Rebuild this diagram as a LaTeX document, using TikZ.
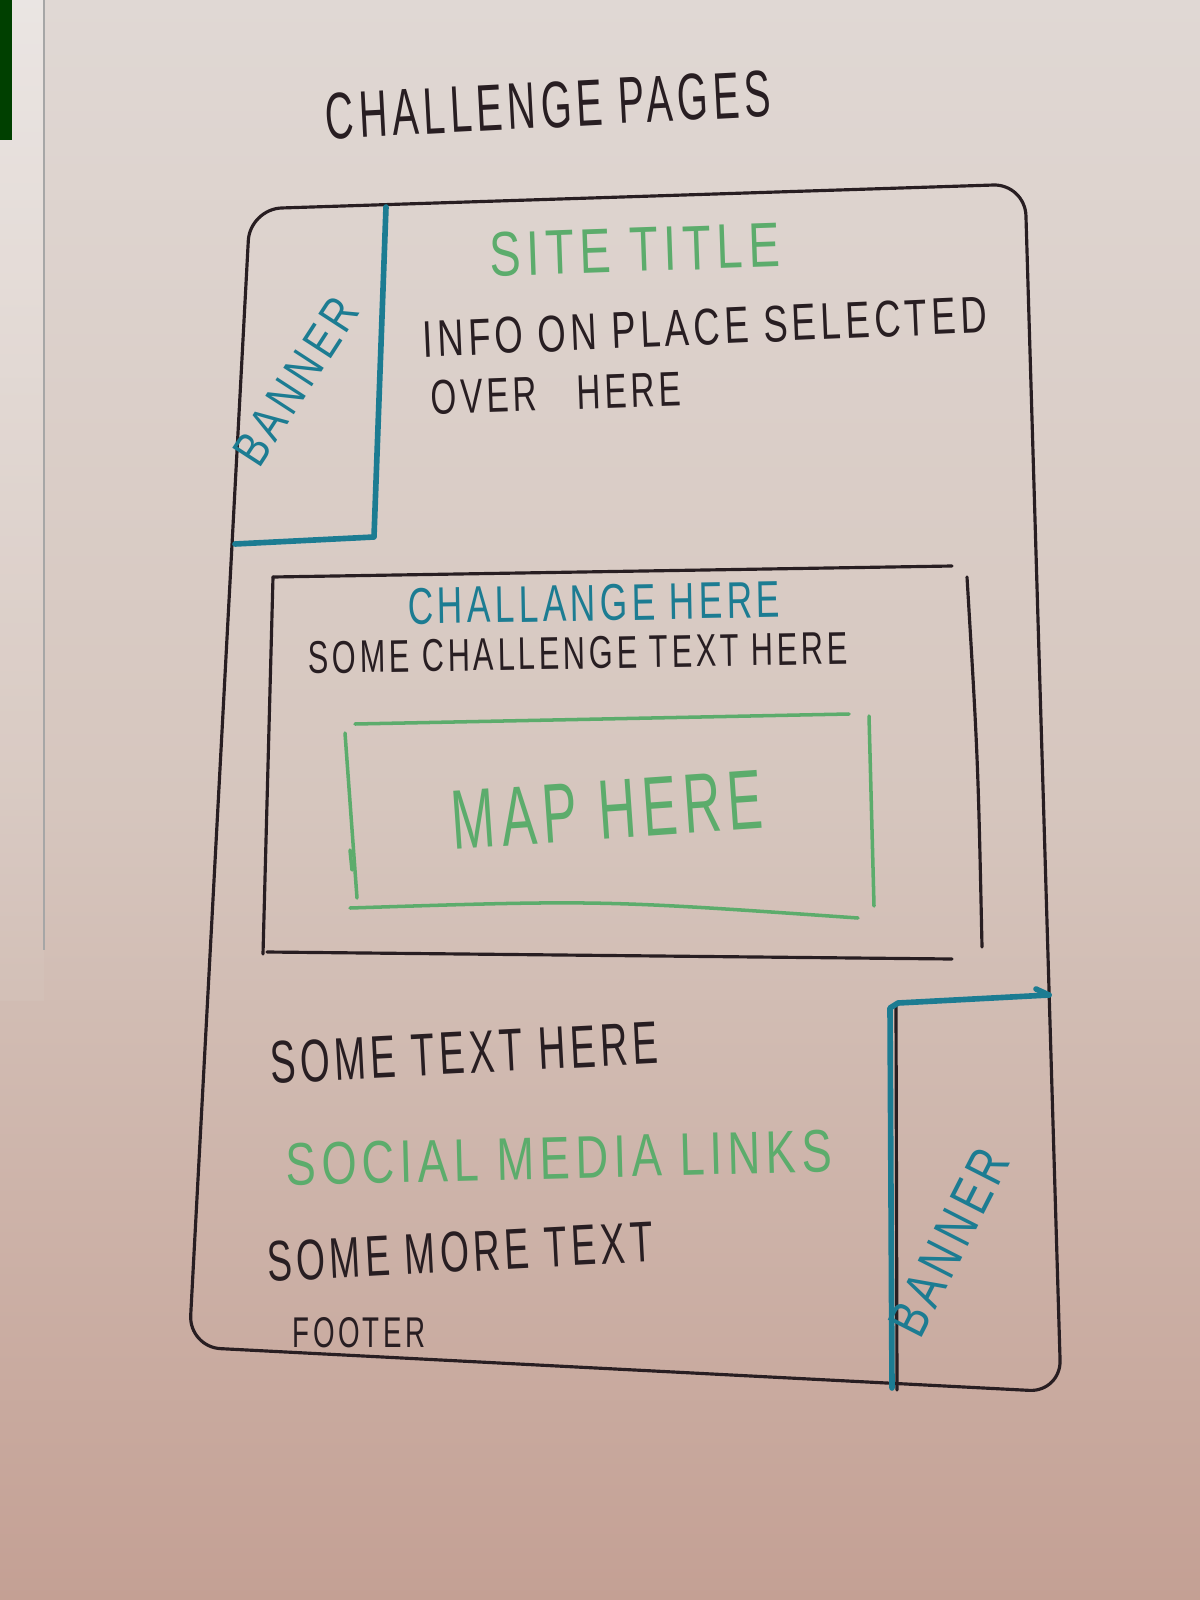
\documentclass[tikz,border=0pt]{standalone}
\usepackage{fontspec}
\usepackage{graphicx}
\setmainfont{Liberation Sans}
\newfontfamily\hand[LetterSpace=12]{Liberation Sans}
\newlength\pxu
\setlength\pxu{0.1mm}
% hand lettering fitted to a given width and cap height (in px units)
\newcommand{\hw}[3]{\resizebox{#1\pxu}{#2\pxu}{\hand #3}}
\definecolor{paperTop}{RGB}{224,216,212}
\definecolor{paperMid}{RGB}{214,198,190}
\definecolor{paperBot}{RGB}{196,160,148}
\definecolor{inkBlack}{RGB}{40,30,34}
\definecolor{inkBlue}{RGB}{28,124,146}
\definecolor{inkGreen}{RGB}{92,172,108}
\tikzset{
  pen/.style={draw=inkBlack, line width=0.9pt, line cap=round, line join=round},
  bluepen/.style={draw=inkBlue, line width=1.6pt, line cap=round, line join=round},
  greenpen/.style={draw=inkGreen, line width=1.0pt, line cap=round, line join=round},
  lbl/.style={inner sep=0pt, text=inkBlack},
  lblblue/.style={inner sep=0pt, text=inkBlue},
  lblgreen/.style={inner sep=0pt, text=inkGreen},
}
\begin{document}
\begin{tikzpicture}[x=0.01cm, y=-0.01cm]
  % paper
  \shade[top color=paperTop, bottom color=paperBot, middle color=paperMid]
    (0,0) rectangle (1200,1600);
  \useasboundingbox (0,0) rectangle (1200,1600);
  % page edge on the left
  \shade[top color=white, bottom color=paperMid, opacity=0.35] (0,0) rectangle (44,1000);
  \draw[black!35, line width=0.4pt] (44,0) -- (44,950);
  \fill[green!25!black] (0,0) rectangle (12,140);

  % title
  \node[lbl, rotate=3] (title) at (548,105) {\hw{445}{46}{CHALLENGE PAGES}};

  % outer page frame
  \draw[pen, rounded corners=9pt] (250,209) -- (1025,184) -- (1061,1392) -- (189,1347) -- cycle;

  % top-left banner
  \draw[bluepen] (386,207) -- (374,537) -- (235,544);
  \node[lblblue, rotate=57] (banner1) at (296,381) {\hw{188}{34}{BANNER}};

  % header texts
  \node[lblgreen, rotate=2] (sitetitle) at (635,250) {\hw{290}{44}{SITE TITLE}};
  \node[lbl, rotate=2.5] (info1) at (705,327) {\hw{564}{36}{INFO ON PLACE SELECTED}};
  \node[lbl, rotate=2] (info2) at (556,393) {\hw{250}{34}{OVER\hspace{1.2em}HERE}};

  % challenge box
  \draw[pen] (273,577) -- (952,566);
  \draw[pen] (967,577) .. controls (978,760) .. (982,947);
  \draw[pen] (267,952) -- (952,959);
  \draw[pen] (273,577) -- (263,954);
  \node[lblblue, rotate=1] (chtitle) at (594,603) {\hw{372}{36}{CHALLANGE HERE}};
  \node[lbl, rotate=1] (chtext) at (578,653) {\hw{539}{32}{SOME CHALLENGE TEXT HERE}};

  % map placeholder
  \draw[greenpen] (355,724) -- (849,714);
  \draw[greenpen] (869,716) -- (874,906);
  \draw[greenpen] (350,908) .. controls (600,900) .. (858,918);
  \draw[greenpen] (345,733) -- (357,898);
  \draw[greenpen] (350,850) -- (352,870);
  \node[lblgreen, rotate=4] (map) at (607,810) {\hw{311}{58}{MAP HERE}};

  % lower texts
  \node[lbl, rotate=3] (sometext) at (464,1053) {\hw{388}{42}{SOME TEXT HERE}};
  \node[lblgreen, rotate=1.5] (social) at (559,1158) {\hw{546}{42}{SOCIAL MEDIA LINKS}};
  \node[lbl, rotate=3] (moretext) at (460,1252) {\hw{386}{40}{SOME MORE TEXT}};
  \node[lbl] (footer) at (359,1333) {\hw{132}{30}{FOOTER}};

  % bottom-right banner
  \draw[pen] (896,1006) -- (897,1390);
  \draw[bluepen] (1049,995) -- (898,1003) -- (890,1008) -- (892,1388);
  \draw[bluepen] (1036,989) -- (1049,995);
  \node[lblblue, rotate=63] (banner2) at (949,1242) {\hw{201}{38}{BANNER}};
\end{tikzpicture}
\end{document}
